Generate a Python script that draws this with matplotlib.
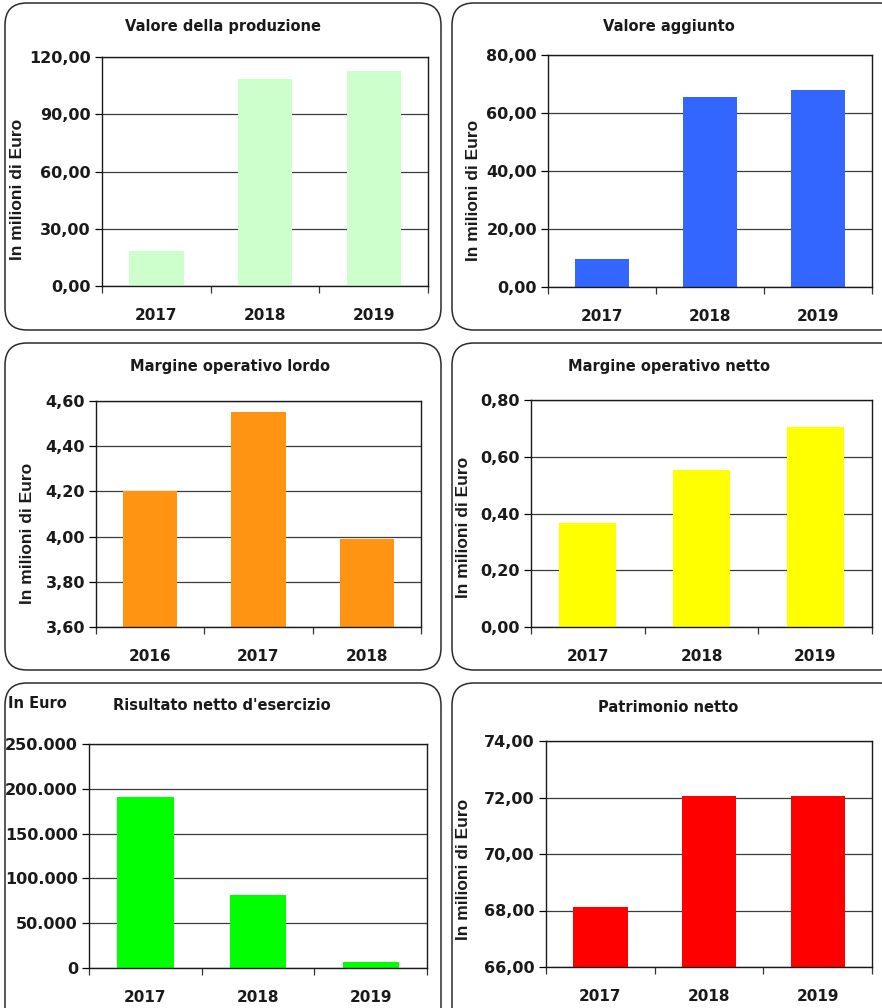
import numpy as np
import matplotlib
matplotlib.use('Agg')
import matplotlib.pyplot as plt
from matplotlib.patches import FancyBboxPatch
from matplotlib.ticker import FuncFormatter

# data
titles = ['Valore della produzione', 'Valore aggiunto',
          'Margine operativo lordo', 'Margine operativo netto',
          "Risultato netto d'esercizio", 'Patrimonio netto']
years_a = ['2017', '2018', '2019']
years_b = ['2016', '2017', '2018']

valore_produzione = [18.3, 108.5, 112.6]
valore_aggiunto = [9.7, 65.5, 67.9]
mol = [4.20, 4.55, 3.99]
mon = [0.365, 0.554, 0.705]
risultato_netto = [191000, 81500, 6700]
patrimonio_netto = [68.13, 72.06, 72.06]

colors = ['#ccffcc', '#3366ff', '#ff9412', '#ffff00', '#00ff00', '#ff0000']

W, H = 882, 1008
fig = plt.figure(figsize=(W / 100, H / 100), dpi=100)

# background layer in pixel coordinates for the rounded frames
bg = fig.add_axes([0, 0, 1, 1], zorder=-1)
bg.set_xlim(0, W)
bg.set_ylim(H, 0)
bg.axis('off')
frames = [(5, 3, 436, 327), (452, 3, 450, 327),
          (5, 343, 436, 327), (452, 343, 450, 327),
          (5, 683, 436, 360), (452, 683, 450, 360)]
for x, y, w, h in frames:
    bg.add_patch(FancyBboxPatch((x, y), w, h, boxstyle='round,pad=0,rounding_size=22',
                                fc='white', ec='#2b2b2b', lw=1.1))

txt = '#1a1a1a'


def comma_fmt(v, pos):
    return ('%.2f' % v).replace('.', ',')


def dot_fmt(v, pos):
    return '{:,.0f}'.format(v).replace(',', '.')


def panel(px, vals, cats, color, ylim, step, fmt, title, title_xy, ylabel_xy=None):
    xl, xr, yt, yb = px
    ax = fig.add_axes([xl / W, 1 - yb / H, (xr - xl) / W, (yb - yt) / H])
    x = np.arange(len(vals))
    ax.bar(x, np.array(vals) - ylim[0], bottom=ylim[0], width=0.5, color=color, zorder=2)
    ax.set_xlim(-0.5, len(vals) - 0.5)
    ax.set_ylim(*ylim)
    ax.set_yticks(np.arange(ylim[0], ylim[1] + step / 2, step))
    ax.yaxis.set_major_formatter(FuncFormatter(fmt))
    ax.yaxis.grid(True, color='#3c3c3c', lw=0.9, zorder=1)
    ax.set_xticks(x)
    ax.set_xticklabels(cats)
    ax.set_xticks(np.arange(len(vals) + 1) - 0.5, minor=True)
    ax.tick_params(axis='x', which='major', length=0, pad=16, labelsize=11, labelcolor=txt)
    ax.tick_params(axis='x', which='minor', length=5, width=0.9, color='#333333')
    ax.tick_params(axis='y', length=5, width=0.9, pad=3, labelsize=11.5, labelcolor=txt)
    for lab in ax.get_xticklabels() + ax.get_yticklabels():
        lab.set_fontweight('bold')
    for s in ax.spines.values():
        s.set_color('#1a1a1a')
        s.set_linewidth(1.0)
    bg.text(title_xy[0], title_xy[1], title, ha='center', va='center',
            fontsize=10.5, fontweight='bold', color=txt)
    if ylabel_xy is not None:
        bg.text(ylabel_xy[0], ylabel_xy[1], 'In milioni di Euro', rotation=90,
                ha='center', va='center', fontsize=12.5, fontweight='bold',
                family='Liberation Sans', color=txt)
    return ax


panel((102, 428, 57, 286), valore_produzione, years_a, colors[0], (0, 120), 30,
      comma_fmt, titles[0], (223, 26), (18, 189))
panel((548, 872, 55, 287), valore_aggiunto, years_a, colors[1], (0, 80), 20,
      comma_fmt, titles[1], (669, 26), (473, 190))
panel((96, 421, 401, 627), mol, years_b, colors[2], (3.6, 4.6), 0.2,
      comma_fmt, titles[2], (230, 367), (28, 533))
panel((531, 872, 400, 627), mon, years_a, colors[3], (0, 0.8), 0.2,
      comma_fmt, titles[3], (669, 367), (463, 527))
panel((89, 427, 744, 968), risultato_netto, years_a, colors[4], (0, 250000), 50000,
      dot_fmt, titles[4], (222, 706))
panel((546, 872, 741, 967), patrimonio_netto, years_a, colors[5], (66, 74), 2,
      comma_fmt, titles[5], (668, 707), (463, 869))

bg.text(8, 704, 'In Euro', ha='left', va='center', fontsize=10.5,
        fontweight='bold', color=txt)

fig.savefig('out.png', dpi=100)
